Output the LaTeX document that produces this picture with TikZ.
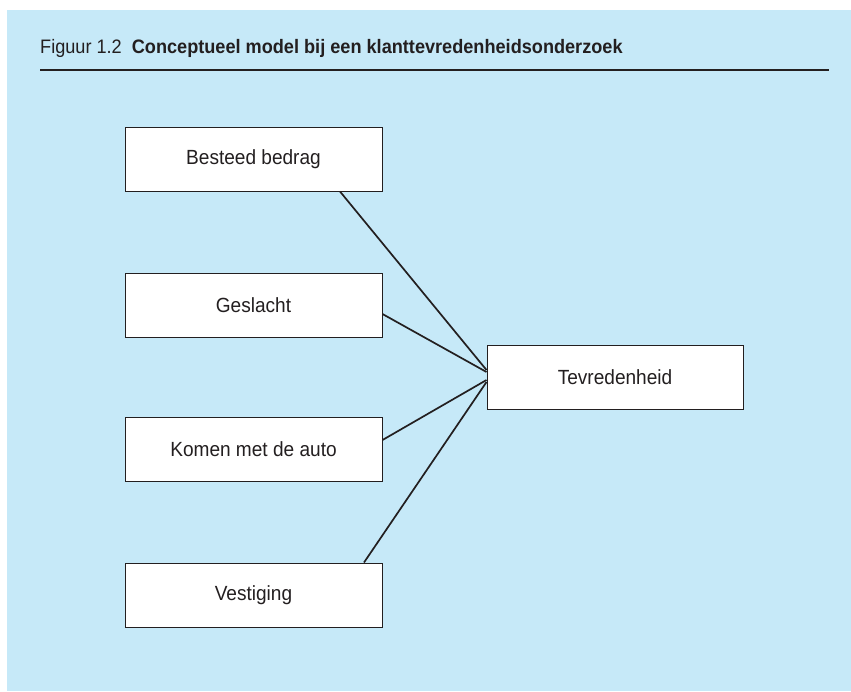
\documentclass[tikz,border=0pt]{standalone}
\usepackage{fontspec}
\setmainfont{Liberation Sans}[FakeStretch=0.93]
\usetikzlibrary{calc}
\definecolor{bgblue}{RGB}{198,233,248}
\definecolor{ink}{RGB}{35,31,32}
\tikzset{
  varbox/.style={draw=ink, line width=1pt, fill=white, minimum width=257pt, minimum height=64pt,
    inner sep=0pt, text=ink, font=\fontsize{20.5}{24}\selectfont},
  link/.style={draw=ink, line width=1.7pt},
}
\begin{document}
\begin{tikzpicture}[x=1pt,y=-1pt]
\useasboundingbox (0,0) rectangle (851,691);
\fill[white] (0,0) rectangle (851,691);
\fill[bgblue] (7,10) rectangle (851,691);
\node[anchor=base west, inner sep=0pt, text=ink, font=\fontsize{19.5}{23}\selectfont] (title) at (40,53)
  {Figuur 1.2\hspace{10pt}\textbf{Conceptueel model bij een klanttevredenheidsonderzoek}};
\coordinate (ruleL) at (40,70);
\coordinate (ruleR) at (829,70);
\draw[ink, line width=2pt] (ruleL) -- (ruleR);
\node[varbox] (bb) at (253.5,159) {Besteed bedrag};
\node[varbox] (gs) at (253.5,305.5) {Geslacht};
\node[varbox] (km) at (253.5,449) {Komen met de auto};
\node[varbox] (vs) at (253.5,595) {Vestiging};
\node[varbox, minimum width=256pt] (tv) at (615,377) {Tevredenheid};
\draw[link] ([xshift=86.5pt]bb.south) -- ([yshift=7pt]tv.west);
\draw[link] ([yshift=-8.5pt]gs.east) -- ([yshift=5pt]tv.west);
\draw[link] ([yshift=9pt]km.east) -- ([yshift=-3pt]tv.west);
\draw[link] ([xshift=110.5pt]vs.north) -- ([yshift=-5pt]tv.west);
\end{tikzpicture}
\end{document}
